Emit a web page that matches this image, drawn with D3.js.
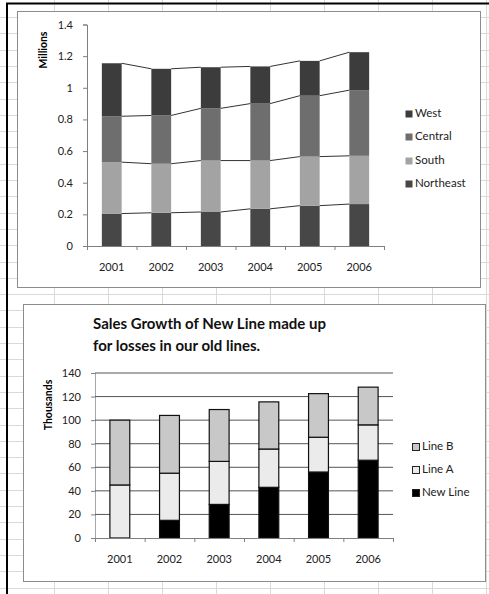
<!DOCTYPE html>
<html>
<head>
<meta charset="utf-8">
<script src="https://cdn.jsdelivr.net/npm/d3@7"></script>
<style>
  body { margin: 0; background: #fff; }
  svg { display: block; font-family: Lato, "Open Sans", sans-serif; }
</style>
</head>
<body>
<svg id="vis" width="489" height="594"></svg>
<script>
// data
let years = ["2001", "2002", "2003", "2004", "2005", "2006"];

// top chart (millions)
let regions = ["Northeast", "South", "Central", "West"];
let northeast = [0.205, 0.21, 0.215, 0.235, 0.255, 0.265];
let south = [0.325, 0.31, 0.325, 0.305, 0.31, 0.305];
let central = [0.29, 0.305, 0.33, 0.36, 0.385, 0.415];
let west = [0.335, 0.295, 0.26, 0.235, 0.22, 0.24];
let regionTicks = [0, 0.2, 0.4, 0.6, 0.8, 1, 1.2, 1.4];

// bottom chart (thousands)
let lines = ["New Line", "Line A", "Line B"];
let newLine = [0, 15, 28.5, 43, 56, 66];
let lineA = [45, 40, 36.5, 32.5, 29.5, 30];
let lineB = [55, 49, 44, 40, 37, 32];
let lineTicks = [0, 20, 40, 60, 80, 100, 120, 140];
let title = ["Sales Growth of New Line made up", "for losses in our old lines."];

let svg = d3.select("#vis");
let W = 489, H = 594;
let tickFont = 11;

// excel sheet grid behind the charts
let sheet = svg.append("g").attr("stroke", "#d9d9d9").attr("stroke-width", 1);
sheet.selectAll("line.v")
    .data(d3.range(1, 10))
    .enter().append("line")
    .attr("x1", d => d * 54 + 0.5).attr("x2", d => d * 54 + 0.5)
    .attr("y1", 0).attr("y2", H);
sheet.selectAll("line.h")
    .data(d3.range(1, 37))
    .enter().append("line")
    .attr("x1", 0).attr("x2", W)
    .attr("y1", d => Math.round(d * 16.3 + 0.7) + 0.5)
    .attr("y2", d => Math.round(d * 16.3 + 0.7) + 0.5);

// black window edges
svg.append("line").attr("x1", 7).attr("x2", 7).attr("y1", 3).attr("y2", H)
    .attr("stroke", "#000").attr("stroke-width", 2);
svg.append("line").attr("x1", 6).attr("x2", W).attr("y1", 3.5).attr("y2", 3.5)
    .attr("stroke", "#000").attr("stroke-width", 2);

function frame(x, y, w, h) {
    svg.append("rect")
        .attr("x", x + 0.5).attr("y", y + 0.5)
        .attr("width", w).attr("height", h)
        .attr("fill", "#fff").attr("stroke", "#8c8c8c");
}

function xAxis(g, x, y0, labelY) {
    // tick marks at category boundaries, labels at centres
    let edges = d3.scaleLinear().domain([0, years.length]).range(x.range());
    g.append("g")
        .attr("transform", "translate(0," + y0 + ")")
        .call(d3.axisBottom(edges).tickValues(d3.range(0, years.length + 1)).tickSize(4).tickFormat(""))
        .call(a => a.select(".domain").attr("stroke", "#7f7f7f"))
        .call(a => a.selectAll(".tick line").attr("stroke", "#7f7f7f"));
    g.selectAll("text.year")
        .data(years)
        .enter().append("text")
        .attr("x", d => x(d) + x.bandwidth() / 2)
        .attr("y", labelY)
        .attr("text-anchor", "middle")
        .attr("dominant-baseline", "middle")
        .attr("font-size", tickFont)
        .attr("fill", "#222")
        .text(d => d);
}

function legend(g, items, colors, x0, ys, stroke) {
    items.forEach((name, i) => {
        g.append("rect")
            .attr("x", x0 + 0.5).attr("y", ys[i] - 3.5)
            .attr("width", 7).attr("height", 7)
            .attr("fill", colors[i])
            .attr("stroke", stroke ? "#222" : "none");
        g.append("text")
            .attr("x", x0 + 10).attr("y", ys[i])
            .attr("dominant-baseline", "middle")
            .attr("font-size", 11.5)
            .attr("fill", "#222")
            .text(name);
    });
}

// ---------- top chart ----------
frame(17, 11, 463, 276);
let topG = svg.append("g");
let regionColors = ["#474747", "#a3a3a3", "#6e6e6e", "#3c3c3c"];
let regionData = years.map((yr, i) => ({
    year: yr, Northeast: northeast[i], South: south[i], Central: central[i], West: west[i]
}));
let stackTop = d3.stack().keys(regions)(regionData);

let x1 = d3.scaleBand().domain(years).range([87, 384]).paddingInner(0.6).paddingOuter(0.3);
let y1 = d3.scaleLinear().domain([0, 1.4]).range([246, 24.5]);

topG.append("g")
    .attr("transform", "translate(87,0)")
    .call(d3.axisLeft(y1).tickValues(regionTicks).tickSize(4).tickPadding(10)
        .tickFormat(d => String(+d.toFixed(1))))
    .call(a => a.select(".domain").attr("stroke", "#7f7f7f"))
    .call(a => a.selectAll(".tick line").attr("stroke", "#7f7f7f"))
    .call(a => a.selectAll("text").attr("font-size", tickFont).attr("fill", "#222")
        .attr("font-family", "Lato, sans-serif"));

topG.selectAll("g.series")
    .data(stackTop)
    .enter().append("g")
    .attr("fill", (d, i) => regionColors[i])
    .selectAll("rect")
    .data(d => d)
    .enter().append("rect")
    .attr("x", d => x1(d.data.year))
    .attr("width", x1.bandwidth())
    .attr("y", d => y1(d[1]))
    .attr("height", d => y1(d[0]) - y1(d[1]));

// series lines joining the tops of each segment
stackTop.forEach(s => {
    for (let i = 0; i < years.length - 1; i++) {
        topG.append("line")
            .attr("x1", x1(years[i]) + x1.bandwidth()).attr("y1", y1(s[i][1]))
            .attr("x2", x1(years[i + 1])).attr("y2", y1(s[i + 1][1]))
            .attr("stroke", "#333").attr("stroke-width", 1);
    }
});

xAxis(topG, x1, 246, 268);

topG.append("text")
    .attr("transform", "translate(47,50) rotate(-90)")
    .attr("text-anchor", "middle")
    .attr("font-size", 10.5)
    .attr("font-weight", "bold")
    .text("Millions");

legend(topG, regions.slice().reverse(), regionColors.slice().reverse(), 405, [114, 137, 161, 184], false);

// ---------- bottom chart ----------
frame(23, 304, 462, 277);
let botG = svg.append("g");
let lineColors = ["#000000", "#ebebeb", "#c8c8c8"];
let lineData = years.map((yr, i) => ({
    year: yr, "New Line": newLine[i], "Line A": lineA[i], "Line B": lineB[i]
}));
let stackBot = d3.stack().keys(lines)(lineData);

let x2 = d3.scaleBand().domain(years).range([95, 393]).paddingInner(0.6).paddingOuter(0.3);
let y2 = d3.scaleLinear().domain([0, 140]).range([538, 373]);

botG.selectAll("text.title")
    .data(title)
    .enter().append("text")
    .attr("x", 93)
    .attr("y", (d, i) => 329 + i * 22)
    .attr("font-size", 15)
    .attr("font-weight", "bold")
    .attr("fill", "#111")
    .text(d => d);

botG.append("g")
    .attr("transform", "translate(95,0)")
    .call(d3.axisLeft(y2).tickValues(lineTicks).tickSize(4).tickPadding(10))
    .call(a => a.select(".domain").attr("stroke", "#a6a6a6"))
    .call(a => a.selectAll(".tick line").attr("stroke", "#7f7f7f"))
    .call(a => a.selectAll("text").attr("font-size", tickFont).attr("fill", "#222")
        .attr("font-family", "Lato, sans-serif"));

// horizontal gridlines
botG.selectAll("line.grid")
    .data(lineTicks.slice(1))
    .enter().append("line")
    .attr("x1", 95).attr("x2", 393)
    .attr("y1", d => y2(d)).attr("y2", d => y2(d))
    .attr("stroke", "#555").attr("stroke-width", 1);

botG.selectAll("g.series")
    .data(stackBot)
    .enter().append("g")
    .attr("fill", (d, i) => lineColors[i])
    .attr("stroke", "#111")
    .attr("stroke-width", 1.2)
    .selectAll("rect")
    .data(d => d.filter(p => p[1] > p[0]))
    .enter().append("rect")
    .attr("x", d => x2(d.data.year))
    .attr("width", x2.bandwidth())
    .attr("y", d => y2(d[1]))
    .attr("height", d => y2(d[0]) - y2(d[1]));

xAxis(botG, x2, 538, 560);

botG.append("text")
    .attr("transform", "translate(52,405) rotate(-90)")
    .attr("text-anchor", "middle")
    .attr("font-size", 10.5)
    .attr("font-weight", "bold")
    .text("Thousands");

legend(botG, lines.slice().reverse(), lineColors.slice().reverse(), 412, [447, 470, 493], true);
</script>
</body>
</html>
